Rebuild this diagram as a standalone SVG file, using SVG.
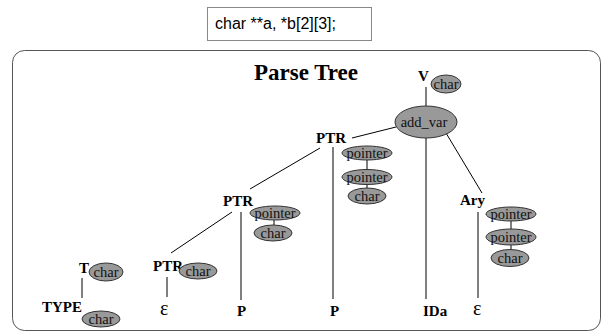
<svg xmlns="http://www.w3.org/2000/svg" width="604" height="334" viewBox="0 0 604 334">
  <style>
    .lbl { font-family: "Liberation Serif", serif; font-weight: bold; font-size: 15px; fill: #000; }
    .eps { font-family: "Liberation Serif", serif; font-size: 20px; fill: #000; }
    .attr ellipse { fill: #999; stroke: #333; stroke-width: 1; }
    .attr text { font-family: "Liberation Serif", "Times New Roman", serif; font-size: 14.5px; fill: #111; text-anchor: middle; }
    .edges line { stroke: #000; stroke-width: 1; }
  </style>

  <!-- source declaration -->
  <g id="source">
    <rect x="207.5" y="7.5" width="164" height="33" fill="#fff" stroke="#888"/>
    <text x="215" y="29" font-family="Liberation Sans, Arial, sans-serif" font-size="16px">char **a, *b[2][3];</text>
  </g>

  <!-- panel frame -->
  <rect x="12.5" y="50.5" width="588" height="280" rx="12" ry="12" fill="#fff" stroke="#555"/>
  <text x="306" y="80" text-anchor="middle" font-family="Liberation Serif, serif" font-weight="bold" font-size="23px">Parse Tree</text>

  <!-- tree edges -->
  <g class="edges">
    <line x1="426" y1="87" x2="426" y2="106"/>
    <line x1="352" y1="138" x2="396" y2="127"/>
    <line x1="426" y1="138" x2="426" y2="299"/>
    <line x1="446" y1="133" x2="482" y2="193"/>
    <line x1="478" y1="212" x2="478" y2="298"/>
    <line x1="333" y1="147" x2="333" y2="299"/>
    <line x1="320" y1="148" x2="250" y2="189"/>
    <line x1="241" y1="212" x2="241" y2="300"/>
    <line x1="232" y1="212" x2="171" y2="253"/>
    <line x1="167" y1="277" x2="167" y2="297"/>
    <line x1="82" y1="278" x2="82" y2="298"/>
    <!-- links between attribute bubbles -->
    <line x1="367" y1="159" x2="367" y2="170"/>
    <line x1="367" y1="184" x2="367" y2="188"/>
    <line x1="274" y1="220" x2="274" y2="225"/>
    <line x1="511" y1="221" x2="511" y2="229"/>
    <line x1="511" y1="245" x2="511" y2="250"/>
  </g>

  <g id="V">
    <text class="lbl" x="418" y="81">V</text>
    <g class="attr"><ellipse cx="446" cy="84" rx="15" ry="9"/><text x="446" y="88.5">char</text></g>
  </g>

  <g id="add_var" class="attr">
    <ellipse cx="426" cy="122" rx="31" ry="16"/>
    <text x="424" y="126.5">add_var</text>
  </g>

  <g id="PTR1">
    <text class="lbl" x="316" y="143">PTR</text>
    <g class="attr"><ellipse cx="367" cy="153" rx="25" ry="7"/><text x="367" y="157.5">pointer</text></g>
    <g class="attr"><ellipse cx="367" cy="177" rx="25" ry="7.5"/><text x="367" y="181.5">pointer</text></g>
    <g class="attr"><ellipse cx="367" cy="196" rx="19" ry="8"/><text x="367" y="200.5">char</text></g>
  </g>

  <g id="Ary">
    <text class="lbl" x="460" y="205">Ary</text>
    <g class="attr"><ellipse cx="511" cy="214" rx="25" ry="7"/><text x="511" y="218.5">pointer</text></g>
    <g class="attr"><ellipse cx="511" cy="237" rx="25" ry="8"/><text x="511" y="241.5">pointer</text></g>
    <g class="attr"><ellipse cx="510" cy="258" rx="19" ry="8.5"/><text x="510" y="262.5">char</text></g>
  </g>

  <g id="PTR2">
    <text class="lbl" x="223" y="206">PTR</text>
    <g class="attr"><ellipse cx="275" cy="213" rx="25" ry="7"/><text x="275" y="217.5">pointer</text></g>
    <g class="attr"><ellipse cx="273" cy="233" rx="19" ry="8"/><text x="273" y="237.5">char</text></g>
  </g>

  <g id="PTR3">
    <text class="lbl" x="153" y="271">PTR</text>
    <g class="attr"><ellipse cx="198" cy="271" rx="19" ry="8"/><text x="198" y="275.5">char</text></g>
  </g>

  <g id="T">
    <text class="lbl" x="79" y="273">T</text>
    <g class="attr"><ellipse cx="106" cy="272" rx="17" ry="9"/><text x="106" y="276.5">char</text></g>
  </g>

  <g id="TYPE">
    <text class="lbl" x="42" y="312">TYPE</text>
    <g class="attr"><ellipse cx="101" cy="319" rx="19" ry="8"/><text x="101" y="323.5">char</text></g>
  </g>

  <g id="eps1"><text class="eps" x="160" y="315">ε</text></g>
  <g id="P1"><text class="lbl" x="237" y="316">P</text></g>
  <g id="P2"><text class="lbl" x="330" y="316">P</text></g>
  <g id="IDa"><text class="lbl" x="423" y="316">IDa</text></g>
  <g id="eps2"><text class="eps" x="473" y="315">ε</text></g>
</svg>
